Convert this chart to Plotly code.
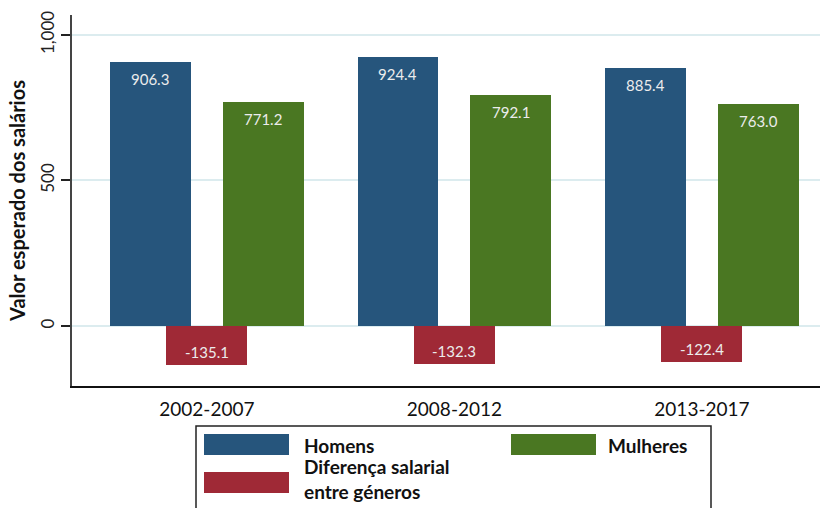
import plotly.graph_objects as go

# Wage expectations by period and gender
periodos = ["2002-2007", "2008-2012", "2013-2017"]
homens = [906.3, 924.4, 885.4]
mulheres = [771.2, 792.1, 763.0]
diferenca = [-135.1, -132.3, -122.4]

nomes = ["Homens", "Mulheres", "Diferença salarial<br>entre géneros"]
cores = ["#26557c", "#4a7722", "#9f2936"]

FONT = "Lato"
W, H = 820, 508
ML, MR, MT, MB = 72, 0, 15, 122

# bar geometry in category units
BW = 0.327
SHIFT = 0.228

fig = go.Figure()
series = [homens, mulheres, diferenca]
centers = [-SHIFT, SHIFT, 0.0]
for nome, vals, cor, c in zip(nomes, series, cores, centers):
    fig.add_trace(go.Bar(
        x=periodos, y=vals, name=nome,
        marker=dict(color=cor, line=dict(width=0)),
        width=BW, offset=c - BW / 2,
        showlegend=False, hoverinfo="x+y",
    ))

# value labels inside the bar tips
annotations = []
for vals, c in zip(series, centers):
    for i, v in enumerate(vals):
        annotations.append(dict(
            x=i + c, y=v, xref="x", yref="y",
            text=f"{v:.1f}", showarrow=False,
            yanchor="middle", yshift=-17 if v > 0 else 13,
            font=dict(family=FONT, size=15, color="#ececec"),
        ))

# helpers for pixel -> paper coordinates
pw, ph = W - ML - MR, H - MT - MB
def px(x):
    return (x - ML) / pw
def py(y):
    return (H - MB - y) / ph

shapes = []
# legend frame
shapes.append(dict(type="rect", xref="paper", yref="paper",
                   x0=px(196), x1=px(711), y0=py(426), y1=py(530),
                   line=dict(color="#222222", width=1.5), fillcolor="white", layer="above"))
# legend swatches
sw = [(204, 434), (511, 434), (204, 472)]
for (sx, sy), cor in zip(sw, cores):
    shapes.append(dict(type="rect", xref="paper", yref="paper",
                       x0=px(sx), x1=px(sx + 85), y0=py(sy + 21), y1=py(sy),
                       line=dict(width=0), fillcolor=cor, layer="above"))
lab_pos = [(302, 445), (606, 445), (302, 479)]
for (lx, ly), nome in zip(lab_pos, nomes):
    annotations.append(dict(
        x=px(lx), y=py(ly), xref="paper", yref="paper",
        text=f"<b>{nome}</b>", showarrow=False, align="left",
        xanchor="left", yanchor="middle",
        font=dict(family=FONT, size=19, color="#111111"),
    ))

fig.update_layout(
    width=W, height=H,
    margin=dict(l=ML, r=MR, t=MT, b=MB, pad=0),
    paper_bgcolor="white", plot_bgcolor="white",
    barmode="overlay", bargap=0,
    font=dict(family=FONT, color="#111111"),
    shapes=shapes, annotations=annotations,
    xaxis=dict(
        range=[-0.545, 2.477], showgrid=False, zeroline=False,
        showline=True, linecolor="#111111", linewidth=2,
        ticks="", tickfont=dict(family=FONT, size=19, color="#111111"),
        ticklabelstandoff=5,
    ),
    yaxis=dict(
        range=[-206.2, 1068.7], tickvals=[0, 500, 1000],
        ticktext=["0", "500", "1,000"], tickangle=-90,
        tickfont=dict(family=FONT, size=17, color="#222222"),
        ticks="outside", ticklen=9, tickwidth=2, tickcolor="#222222",
        showline=True, linecolor="#444444", linewidth=2,
        showgrid=True, gridcolor="#dcecef", gridwidth=1.5,
        zeroline=False,
        title=dict(text="<b>Valor esperado dos salários</b>",
                   font=dict(family=FONT, size=20, color="#111111"), standoff=6),
    ),
)

fig.write_html("out.html")
